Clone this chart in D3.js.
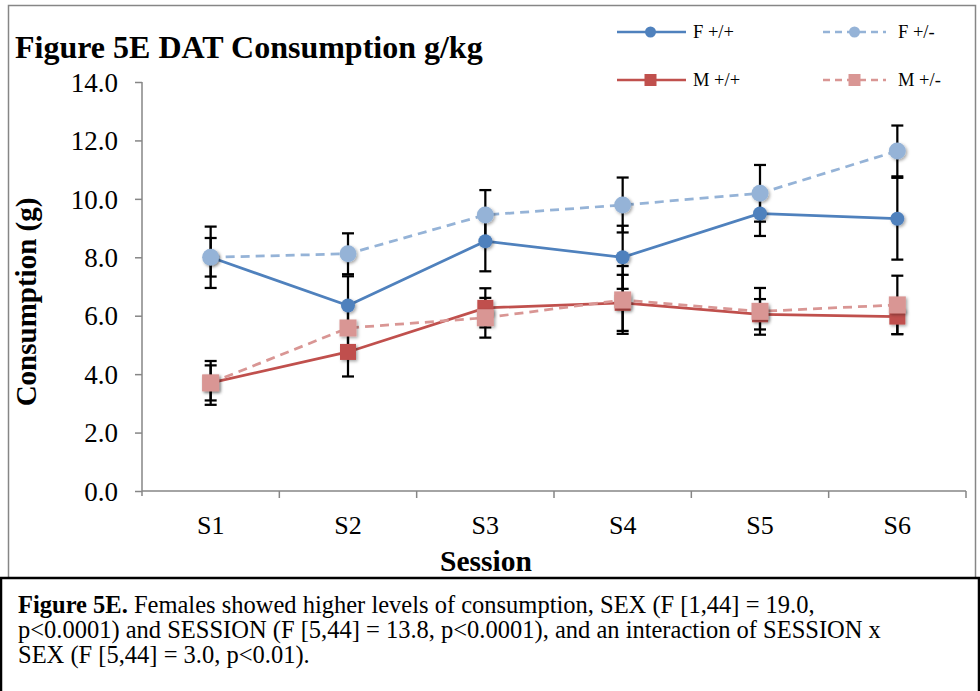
<!DOCTYPE html>
<html>
<head>
<meta charset="utf-8">
<script src="https://cdn.jsdelivr.net/npm/d3@7"></script>
<style>
  body { margin: 0; background: #fff; }
  svg { display: block; font-family: "Liberation Serif", "Times New Roman", serif; }
</style>
</head>
<body>
<div class="chart_holder"></div>
<script>
const sessions = ["S1", "S2", "S3", "S4", "S5", "S6"]
const seriesNames = ["F +/+", "F +/-", "M +/+", "M +/-"]

const f_wt = [8.0, 6.35, 8.55, 8.0, 9.5, 9.32]
const f_het = [8.0, 8.12, 9.45, 9.79, 10.19, 11.64]
const m_wt = [3.7, 4.76, 6.27, 6.44, 6.05, 5.97]
const m_het = [3.7, 5.58, 5.93, 6.54, 6.15, 6.37]

const f_wt_err = [0.66, 1.0, 1.03, 1.08, 0.77, 1.4]
const f_het_err = [1.05, 0.7, 0.85, 0.94, 0.97, 0.87]
const m_wt_err = [0.6, 0.84, 0.67, 0.96, 0.52, 0.6]
const m_het_err = [0.75, 0.8, 0.68, 1.16, 0.8, 1.0]

const yTicks = [0, 2, 4, 6, 8, 10, 12, 14]

const captionLines = [
    ["Figure 5E.", " Females showed higher levels of consumption, SEX (F [1,44] = 19.0,"],
    ["", "p<0.0001) and SESSION (F [5,44] = 13.8, p<0.0001), and an interaction of SESSION x"],
    ["", "SEX (F [5,44] = 3.0, p<0.01)."]
]

function drawChart() {

    const width = 980
    const height = 691
    const plot = { left: 142, right: 966, top: 82, bottom: 491 }

    const series = [
        { name: seriesNames[0], values: f_wt, err: f_wt_err, color: "#4F81BD", dash: null, shape: "circle", size: 7 },
        { name: seriesNames[1], values: f_het, err: f_het_err, color: "#95B3D7", dash: "9,6", shape: "circle", size: 8.5 },
        { name: seriesNames[2], values: m_wt, err: m_wt_err, color: "#C0504D", dash: null, shape: "square", size: 8 },
        { name: seriesNames[3], values: m_het, err: m_het_err, color: "#D99694", dash: "9,6", shape: "square", size: 8.5 }
    ]

    const svg = d3.select(".chart_holder")
        .append("svg")
        .attr("width", width)
        .attr("height", height)

    const defs = svg.append("defs")
    const shadow = defs.append("filter")
        .attr("id", "shadow")
        .attr("x", "-50%").attr("y", "-50%")
        .attr("width", "200%").attr("height", "200%")
    shadow.append("feDropShadow")
        .attr("dx", 1.5).attr("dy", 1.5)
        .attr("stdDeviation", 1.6)
        .attr("flood-color", "#000")
        .attr("flood-opacity", 0.35)

    // frames
    svg.append("rect")
        .attr("x", 8.5).attr("y", 5.5)
        .attr("width", 967).attr("height", 580)
        .attr("fill", "none")
        .attr("stroke", "#868686")
        .attr("stroke-width", 1.5)

    svg.append("rect")
        .attr("x", 1).attr("y", 578)
        .attr("width", 978).attr("height", 130)
        .attr("fill", "#fff")
        .attr("stroke", "#000")
        .attr("stroke-width", 2.5)

    const x = d3.scaleBand()
        .domain(sessions)
        .range([plot.left, plot.right])

    const y = d3.scaleLinear()
        .domain([0, 14])
        .range([plot.bottom, plot.top])

    const cx = d => x(d) + x.bandwidth() / 2

    // y axis
    const yAxis = svg.append("g")
        .attr("transform", `translate(${plot.left},0)`)
        .call(d3.axisLeft(y).tickValues(yTicks).tickFormat(d3.format(".1f")).tickSize(7).tickPadding(17))
    yAxis.select(".domain").attr("stroke", "#868686").attr("stroke-width", 1.5)
        .attr("d", `M0,${plot.top}V${plot.bottom + 5}`)
    yAxis.selectAll(".tick line").attr("stroke", "#868686").attr("stroke-width", 1.5)
    yAxis.selectAll(".tick text")
        .attr("font-size", 27)
        .attr("font-family", "Liberation Serif")
        .attr("fill", "#000")
        .attr("dy", "0.34em")

    // x axis with ticks at category boundaries
    const xAxis = svg.append("g")
        .attr("transform", `translate(0,${plot.bottom})`)
    xAxis.append("line")
        .attr("x1", plot.left).attr("x2", plot.right)
        .attr("stroke", "#868686").attr("stroke-width", 1.5)
    xAxis.selectAll(".bound")
        .data(sessions.slice(1).concat(["end"]))
        .join("line")
        .attr("x1", (d, i) => plot.left + (i + 1) * x.bandwidth())
        .attr("x2", (d, i) => plot.left + (i + 1) * x.bandwidth())
        .attr("y1", 0).attr("y2", 7)
        .attr("stroke", "#868686").attr("stroke-width", 1.5)
    xAxis.selectAll(".xlab")
        .data(sessions)
        .join("text")
        .attr("x", cx)
        .attr("y", 43)
        .attr("text-anchor", "middle")
        .attr("font-size", 26)
        .text(d => d)

    // titles
    svg.append("text")
        .attr("x", 15).attr("y", 58)
        .attr("font-size", 32)
        .attr("font-weight", "bold")
        .text("Figure 5E DAT Consumption g/kg")

    svg.append("text")
        .attr("transform", `translate(36,302) rotate(-90)`)
        .attr("text-anchor", "middle")
        .attr("font-size", 29)
        .attr("font-weight", "bold")
        .text("Consumption (g)")

    svg.append("text")
        .attr("x", 486).attr("y", 571)
        .attr("text-anchor", "middle")
        .attr("font-size", 29.5)
        .attr("font-weight", "bold")
        .text("Session")

    // lines
    const line = d3.line()
        .x((d, i) => cx(sessions[i]))
        .y(d => y(d))

    svg.append("g")
        .selectAll("path")
        .data(series)
        .join("path")
        .attr("d", d => line(d.values))
        .attr("fill", "none")
        .attr("stroke", d => d.color)
        .attr("stroke-width", 2.75)
        .attr("stroke-dasharray", d => d.dash)

    // error bars
    const errData = series.flatMap(s => s.values.map((v, i) => ({ x: cx(sessions[i]), v, e: s.err[i] })))
    const errG = svg.append("g").attr("stroke", "#000").attr("stroke-width", 2.25)
    errG.selectAll(".stem")
        .data(errData)
        .join("line")
        .attr("x1", d => d.x).attr("x2", d => d.x)
        .attr("y1", d => y(d.v + d.e)).attr("y2", d => y(d.v - d.e))
    errG.selectAll(".capTop")
        .data(errData)
        .join("line")
        .attr("x1", d => d.x - 6).attr("x2", d => d.x + 6)
        .attr("y1", d => y(d.v + d.e)).attr("y2", d => y(d.v + d.e))
    errG.selectAll(".capBot")
        .data(errData)
        .join("line")
        .attr("x1", d => d.x - 6).attr("x2", d => d.x + 6)
        .attr("y1", d => y(d.v - d.e)).attr("y2", d => y(d.v - d.e))

    // markers
    function drawMarker(g, shape, size, color, px, py) {
        if (shape == "circle") {
            g.append("circle")
                .attr("cx", px).attr("cy", py).attr("r", size)
                .attr("fill", color)
                .attr("filter", "url(#shadow)")
        } else {
            g.append("rect")
                .attr("x", px - size).attr("y", py - size)
                .attr("width", size * 2).attr("height", size * 2)
                .attr("fill", color)
                .attr("filter", "url(#shadow)")
        }
    }

    const markerG = svg.append("g")
    series.forEach(s => {
        s.values.forEach((v, i) => drawMarker(markerG, s.shape, s.size, s.color, cx(sessions[i]), y(v)))
    })

    // legend
    const legendPos = [
        { x1: 617, x2: 686, y: 32 },
        { x1: 823, x2: 886, y: 32 },
        { x1: 617, x2: 686, y: 80 },
        { x1: 823, x2: 886, y: 80 }
    ]
    const legend = svg.append("g")
    series.forEach((s, i) => {
        const p = legendPos[i]
        legend.append("line")
            .attr("x1", p.x1).attr("x2", p.x2)
            .attr("y1", p.y).attr("y2", p.y)
            .attr("stroke", s.color)
            .attr("stroke-width", 2.5)
            .attr("stroke-dasharray", s.dash ? "7,5" : null)
        const mx = (p.x1 + p.x2) / 2 + (i % 2 == 0 ? -1 : 0)
        if (s.shape == "circle") {
            legend.append("circle").attr("cx", mx).attr("cy", p.y).attr("r", 5.5).attr("fill", s.color)
        } else {
            legend.append("rect").attr("x", mx - 6).attr("y", p.y - 6).attr("width", 12).attr("height", 12).attr("fill", s.color)
        }
        legend.append("text")
            .attr("x", p.x2 + (i % 2 == 0 ? 7 : 12))
            .attr("y", p.y + 6)
            .attr("font-size", 18.5)
            .text(s.name)
    })

    // caption
    const cap = svg.append("g")
    captionLines.forEach((l, i) => {
        const t = cap.append("text")
            .attr("x", 18)
            .attr("y", 613 + i * 25)
            .attr("font-size", 24.5)
        if (l[0]) t.append("tspan").attr("font-weight", "bold").text(l[0])
        t.append("tspan").text(l[1])
    })
}

drawChart()
</script>
</body>
</html>
